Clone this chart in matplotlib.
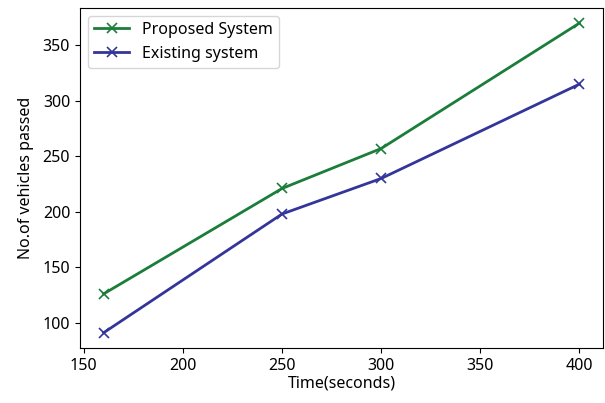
import numpy as np
from matplotlib import pyplot as plt

plt.rcParams['font.family'] = ['Noto Sans', 'DejaVu Sans']

time_s = [160, 250, 300, 400]
proposed = [126, 221, 257, 370]
existing = [91, 198, 230, 315]

fig = plt.figure(figsize=(6.05, 4.03), dpi=100)
ax = fig.add_axes([0.132, 0.136, 0.865, 0.845])

ax.plot(time_s, proposed, '-x', color='#1b7d3a', lw=2, ms=7, mew=1.2,
        label='Proposed System')
ax.plot(time_s, existing, '-x', color='#34359a', lw=2, ms=7, mew=1.2,
        label='Existing system')

ax.set_xlabel('Time(seconds)', fontsize=11.5, labelpad=1)
ax.set_ylabel('No.of vehicles passed', fontsize=11.5, labelpad=6)
ax.tick_params(labelsize=11.5)
ax.legend(loc='upper left', fontsize=11.5, handlelength=2.2,
          borderaxespad=0.5)

fig.savefig('out.png', dpi=100)
